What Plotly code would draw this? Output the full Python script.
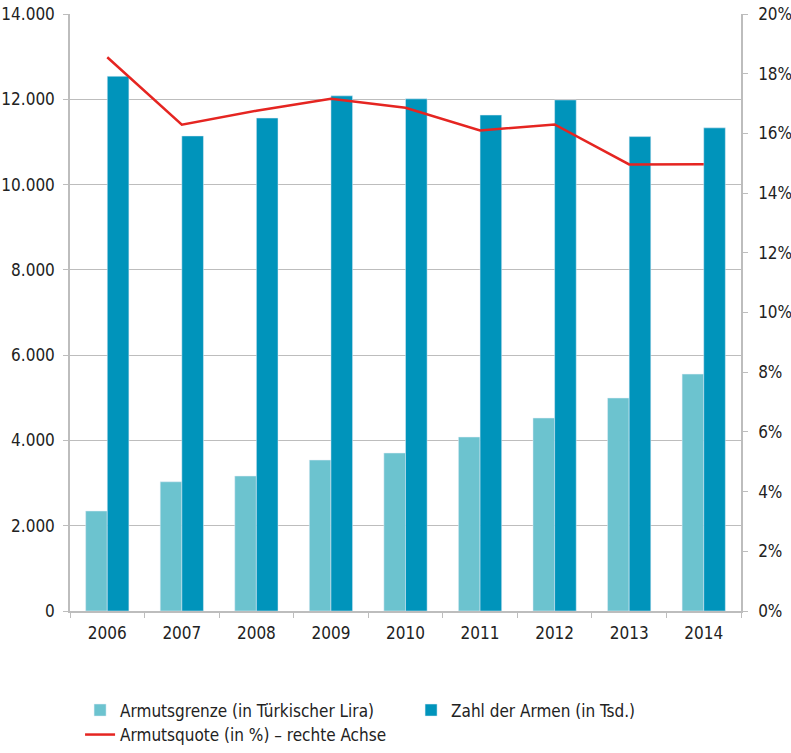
import plotly.graph_objects as go

years = ["2006", "2007", "2008", "2009", "2010", "2011", "2012", "2013", "2014"]
armutsgrenze = [2345, 3030, 3165, 3540, 3705, 4080, 4525, 4995, 5555]
zahl_armen = [12540, 11140, 11560, 12080, 12010, 11630, 11985, 11125, 11330]
armutsquote = [0.1855, 0.1629, 0.1676, 0.1716, 0.1686, 0.161, 0.163, 0.1496, 0.1497]

FONT = "DejaVu Sans Condensed, DejaVu Sans, sans-serif"
GRID = "#bdbdbd"

fig = go.Figure()
fig.add_trace(
    go.Bar(
        x=years,
        y=armutsgrenze,
        name="Armutsgrenze (in Türkischer Lira)",
        marker_color="#6cc3cf",
    )
)
fig.add_trace(
    go.Bar(
        x=years,
        y=zahl_armen,
        name="Zahl der Armen (in Tsd.)",
        marker_color="#0094bb",
    )
)
fig.add_trace(
    go.Scatter(
        x=years,
        y=armutsquote,
        name="Armutsquote (in %) – rechte Achse",
        mode="lines",
        line=dict(color="#e52521", width=2.5),
        yaxis="y2",
        legend="legend2",
    )
)

legend_style = dict(
    orientation="h",
    x=0.015,
    xanchor="left",
    entrywidth=286,
    entrywidthmode="pixels",
    font=dict(size=17),
    bgcolor="rgba(0,0,0,0)",
)

fig.update_layout(
    width=791,
    height=753,
    margin=dict(l=70, r=50, t=14, b=0),
    plot_bgcolor="white",
    paper_bgcolor="white",
    separators=",.",
    font=dict(family=FONT, size=17, color="#222222"),
    barmode="group",
    bargap=0.42,
    bargroupgap=0,
    showlegend=True,
    legend=dict(legend_style, y=0.0575, yanchor="middle"),
    legend2=dict(legend_style, y=0.0, yanchor="bottom"),
    xaxis=dict(
        type="category",
        automargin=False,
        showline=True,
        linecolor=GRID,
        linewidth=1.5,
        ticks="outside",
        tickson="boundaries",
        ticklen=5,
        tickcolor=GRID,
        showgrid=False,
        ticklabelstandoff=6,
    ),
    yaxis=dict(
        domain=[0.19215, 1],
        range=[0, 14000],
        dtick=2000,
        tickformat=",.0f",
        automargin=False,
        showline=True,
        linecolor=GRID,
        linewidth=1.5,
        ticks="outside",
        ticklen=5,
        tickcolor=GRID,
        showgrid=True,
        gridcolor=GRID,
        gridwidth=1,
        zeroline=False,
        ticklabelstandoff=5,
    ),
    yaxis2=dict(
        overlaying="y",
        side="right",
        range=[0, 0.2],
        dtick=0.02,
        tickformat=".0%",
        automargin=False,
        showline=True,
        linecolor=GRID,
        linewidth=1.5,
        ticks="outside",
        ticklen=5,
        tickcolor=GRID,
        showgrid=False,
        zeroline=False,
        ticklabelstandoff=7,
    ),
)

# drop the default 8px body margin so the figure fills the window
fig.write_html(
    "out.html",
    config={"displayModeBar": False},
    post_script="document.body.style.margin = '0';",
)
